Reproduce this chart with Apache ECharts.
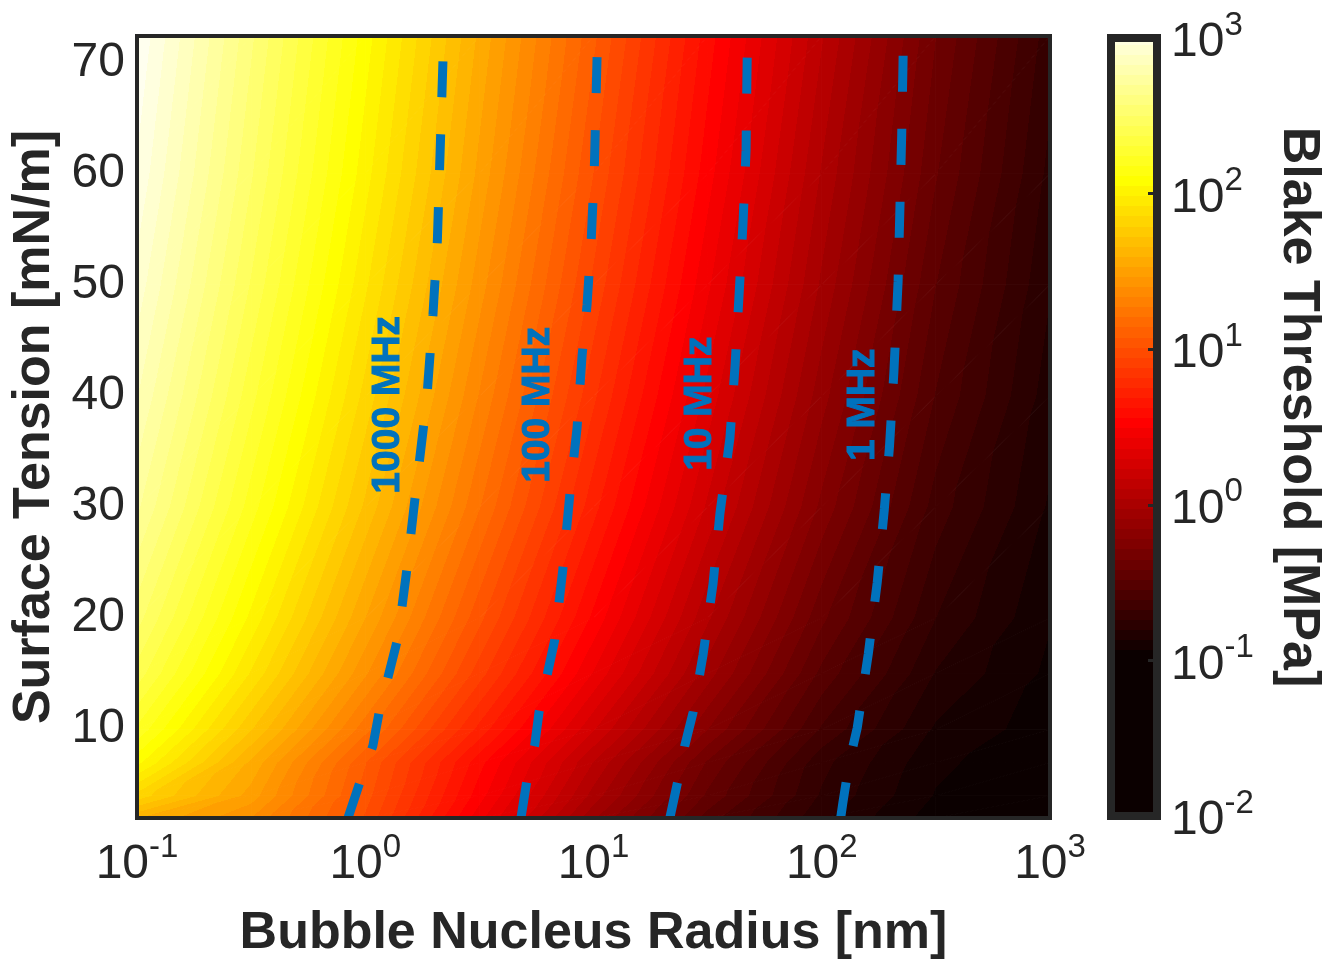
<!DOCTYPE html>
<html>
<head>
<meta charset="utf-8">
<script src="https://cdn.jsdelivr.net/npm/echarts@6/dist/echarts.min.js"></script>
<style>
  html, body { margin: 0; padding: 0; background: #ffffff; }
  #chart { width: 1339px; height: 965px; }
</style>
</head>
<body>
<div id="chart"></div>
<script>
// ---- Blake threshold map: grid nodes ----
const radiusNm = [0.1, 0.316, 1, 3.16, 10, 31.6, 100, 316, 1000];
const tensionMNm = [2, 4, 7, 10, 15, 20, 30, 40, 50, 60, 72.4];
// log10 of the Blake threshold [MPa]; one row per surface tension, one column per radius
const blakeLog10 = [
  [1.60, 1.40, 1.00, 0.45, -0.08, -0.51, -0.79, -0.97, -0.99],  // 2 mN/m
  [1.83, 1.50, 1.04, 0.52,  0.01, -0.43, -0.75, -0.94, -0.99],  // 4
  [2.07, 1.58, 1.08, 0.58,  0.10, -0.36, -0.72, -0.92, -0.99],  // 7
  [2.23, 1.73, 1.23, 0.73,  0.24, -0.22, -0.62, -0.88, -0.97],  // 10
  [2.41, 1.91, 1.41, 0.91,  0.42, -0.06, -0.50, -0.81, -0.95],  // 15
  [2.53, 2.03, 1.53, 1.03,  0.54,  0.05, -0.40, -0.74, -0.93],  // 20
  [2.71, 2.21, 1.71, 1.21,  0.71,  0.22, -0.24, -0.64, -0.88],  // 30
  [2.83, 2.33, 1.83, 1.33,  0.83,  0.34, -0.13, -0.55, -0.84],  // 40
  [2.93, 2.43, 1.93, 1.43,  0.93,  0.44, -0.04, -0.48, -0.80],  // 50
  [3.01, 2.51, 2.01, 1.51,  1.01,  0.52,  0.03, -0.41, -0.76],  // 60
  [3.08, 2.58, 2.08, 1.58,  1.09,  0.59,  0.11, -0.35, -0.71]   // 72.4
];

// colour scale (log10 MPa) and number of colours in the "hot" map
const colorLimits = [-1.0, 3.15];
const colormapSize = 64;

// axis ticks
const radiusTicks = [0.1, 1, 10, 100, 1000];
const tensionTicks = [10, 20, 30, 40, 50, 60, 70];
const colorbarTicks = [0.01, 0.1, 1, 10, 100, 1000];

// ---- dashed frequency contours: [radius nm, surface tension mN/m] ----
const line1000MHz = [[0.84, 2], [0.95, 5.3], [1.08, 8.5], [1.15, 11.5], [1.39, 18.2], [1.52, 24.3],
  [1.65, 30.7], [1.86, 39.7], [1.98, 47.3], [2.07, 54.0], [2.19, 70.2], [2.20, 72.4]];
const line100MHz = [[4.81, 2], [5.10, 5.3], [5.52, 8.5], [5.77, 11.5], [6.76, 18.0], [7.35, 24.5],
  [7.89, 31.3], [8.47, 37.1], [8.91, 43.6], [9.37, 48.2], [9.77, 54.0], [10.07, 60.0], [10.42, 72.4]];
const line10MHz = [[21.6, 2], [23.4, 5.3], [25.1, 8.5], [27.3, 11.5], [30.2, 16.7], [33.4, 23.1],
  [35.8, 29.4], [39.6, 36.2], [41.7, 42.7], [43.4, 49.0], [45.2, 55.6], [46.6, 62.1], [47.0, 68.6], [47.3, 72.4]];
const line1MHz = [[121, 2], [124, 3.5], [132, 7.0], [143, 10.1], [160, 16.8], [175, 23.2], [188, 29.8],
  [198, 35.4], [207, 42.1], [216, 50.3], [220, 56.9], [224, 63.5], [227, 70.0], [228, 72.4]];

// contour labels
const labelText = ['1000 MHz', '100 MHz', '10 MHz', '1 MHz'];
const labelRadius = [1.26, 5.71, 29.3, 152];
const labelTension = [39.2, 39.2, 39.3, 39.2];

// ---- styling ----
const FONT = '"Liberation Sans", Arial, Helvetica, sans-serif';
const INK = '#262626';
const LINE_BLUE = '#0072BD';

// MATLAB style "hot" colormap, entry k = 0 .. colormapSize-1
function hotColor(k) {
  const m = colormapSize;
  const n = Math.floor(3 / 8 * m);
  const i = k + 1;
  const r = Math.min(1, i / n);
  const g = Math.min(1, Math.max(0, (i - n) / n));
  const b = Math.min(1, Math.max(0, (i - 2 * n) / (m - 2 * n)));
  return 'rgb(' + Math.round(r * 255) + ',' + Math.round(g * 255) + ',' + Math.round(b * 255) + ')';
}
function bandIndex(v) {
  const lo = colorLimits[0], hi = colorLimits[1];
  const k = Math.floor((v - lo) / (hi - lo) * colormapSize);
  return Math.max(0, Math.min(colormapSize - 1, k));
}
// stepped colour stops for a gradient running from value a (offset 0) to value b (offset 1), a < b
function steppedStops(a, b) {
  const lo = colorLimits[0], hi = colorLimits[1];
  const step = (hi - lo) / colormapSize;
  const stops = [{ offset: 0, color: hotColor(bandIndex(a)) }];
  const kFirst = Math.max(1, Math.ceil((a - lo) / step));
  const kLast = Math.min(colormapSize - 1, Math.floor((b - lo) / step));
  for (let k = kFirst; k <= kLast; k++) {
    const vb = lo + k * step;
    if (vb <= a || vb >= b) continue;
    const t = (vb - a) / (b - a);
    stops.push({ offset: t, color: hotColor(k - 1) });
    stops.push({ offset: t, color: hotColor(k) });
  }
  stops.push({ offset: 1, color: hotColor(bandIndex(b)) });
  return stops;
}

// the map is drawn as triangles over the node grid, each filled along its own value gradient
const triangles = [];
for (let r = 0; r < tensionMNm.length - 1; r++) {
  for (let c = 0; c < radiusNm.length - 1; c++) {
    triangles.push([[c, r], [c + 1, r], [c + 1, r + 1]]);
    triangles.push([[c, r], [c + 1, r + 1], [c, r + 1]]);
  }
}
const triangleData = triangles.map((t, i) => [radiusNm[t[0][0]], tensionMNm[t[0][1]], i]);

function renderTriangle(params, api) {
  const tri = triangles[api.value(2)];
  const pts = tri.map(([c, r]) => api.coord([radiusNm[c], tensionMNm[r]]));
  const vals = tri.map(([c, r]) => blakeLog10[r][c]);
  const p0 = pts[0];
  const dx1 = pts[1][0] - p0[0], dy1 = pts[1][1] - p0[1];
  const dx2 = pts[2][0] - p0[0], dy2 = pts[2][1] - p0[1];
  const dv1 = vals[1] - vals[0], dv2 = vals[2] - vals[0];
  const det = dx1 * dy2 - dy1 * dx2;
  const gx = (dv1 * dy2 - dy1 * dv2) / det;
  const gy = (dx1 * dv2 - dv1 * dx2) / det;
  const g2 = gx * gx + gy * gy;
  const vmin = Math.min(...vals), vmax = Math.max(...vals);
  let fill;
  if (!(g2 > 1e-14) || vmax - vmin < 1e-6) {
    fill = hotColor(bandIndex(vmin));
  } else {
    const ax = p0[0] + (vmin - vals[0]) * gx / g2, ay = p0[1] + (vmin - vals[0]) * gy / g2;
    const bx = p0[0] + (vmax - vals[0]) * gx / g2, by = p0[1] + (vmax - vals[0]) * gy / g2;
    fill = new echarts.graphic.LinearGradient(ax, ay, bx, by, steppedStops(vmin, vmax), true);
  }
  return {
    type: 'polygon',
    shape: { points: pts },
    style: { fill: fill, stroke: fill, lineWidth: 1 }
  };
}

function renderColorbar(params, api) {
  const lowV = colorbarTicks[0], highV = colorbarTicks[colorbarTicks.length - 1];
  const pLow = api.coord([0, lowV]);
  const pHigh = api.coord([1, highV]);
  const fill = new echarts.graphic.LinearGradient(0, pLow[1], 0, pHigh[1],
    steppedStops(Math.log10(lowV), Math.log10(highV)), true);
  return {
    type: 'rect',
    shape: { x: pLow[0], y: pHigh[1], width: pHigh[0] - pLow[0], height: pLow[1] - pHigh[1] },
    style: { fill: fill }
  };
}

// "10" with a raised exponent
function powerLabel(v) {
  const e = Math.round(Math.log10(v));
  return '{b|10}{s|' + e + '}';
}
const powerRich = {
  b: { fontSize: 48, lineHeight: 48, padding: [10, 0, 0, 0], fontFamily: FONT, color: INK },
  s: { fontSize: 33, lineHeight: 33, padding: [0, 0, 25, 0], fontFamily: FONT, color: INK }
};

const frameLine = { show: true, onZero: false, lineStyle: { color: INK, width: 4, cap: 'square' } };
const barLine = { show: true, onZero: false, lineStyle: { color: INK, width: 8, cap: 'square' } };
const titleStyle = { fontSize: 52, fontWeight: 'bold', color: INK, fontFamily: FONT };

const chart = echarts.init(document.getElementById('chart'), null, { renderer: 'canvas' });
chart.setOption({
  animation: false,
  backgroundColor: '#ffffff',
  grid: [
    { left: 137, top: 36, width: 913, height: 784 },
    { left: 1111, top: 38, width: 46, height: 778 }
  ],
  xAxis: [
    {
      gridIndex: 0, type: 'log', logBase: 10, min: radiusTicks[0], max: radiusTicks[radiusTicks.length - 1],
      position: 'bottom', z: 10,
      name: 'Bubble Nucleus Radius [nm]', nameLocation: 'middle', nameGap: 90, nameTextStyle: titleStyle,
      axisLine: frameLine, axisTick: { show: false }, minorTick: { show: false },
      splitLine: { show: false },
      axisLabel: { margin: 18, formatter: powerLabel, rich: powerRich }
    },
    {
      gridIndex: 0, type: 'log', logBase: 10, min: radiusTicks[0], max: radiusTicks[radiusTicks.length - 1],
      position: 'top', z: 10,
      axisLine: frameLine, axisTick: { show: false }, axisLabel: { show: false }, splitLine: { show: false }
    },
    {
      gridIndex: 1, type: 'value', min: 0, max: 1, position: 'bottom', z: 10,
      axisLine: barLine, axisTick: { show: false }, axisLabel: { show: false }, splitLine: { show: false }
    },
    {
      gridIndex: 1, type: 'value', min: 0, max: 1, position: 'top', z: 10,
      axisLine: barLine, axisTick: { show: false }, axisLabel: { show: false }, splitLine: { show: false }
    }
  ],
  yAxis: [
    {
      gridIndex: 0, type: 'value', min: tensionMNm[0], max: tensionMNm[tensionMNm.length - 1],
      position: 'left', z: 10,
      name: 'Surface Tension [mN/m]', nameLocation: 'middle', nameRotate: 90, nameGap: 72, nameTextStyle: titleStyle,
      axisLine: frameLine, axisTick: { show: false }, splitLine: { show: false },
      axisLabel: { customValues: tensionTicks, margin: 12, fontSize: 48, color: INK, fontFamily: FONT }
    },
    {
      gridIndex: 0, type: 'value', min: tensionMNm[0], max: tensionMNm[tensionMNm.length - 1],
      position: 'right', z: 10,
      axisLine: frameLine, axisTick: { show: false }, axisLabel: { show: false }, splitLine: { show: false }
    },
    {
      gridIndex: 1, type: 'log', logBase: 10, min: colorbarTicks[0], max: colorbarTicks[colorbarTicks.length - 1],
      position: 'right', z: 10,
      name: 'Blake Threshold [MPa]', nameLocation: 'middle', nameRotate: -90, nameGap: 115,
      nameTextStyle: Object.assign({ padding: [0, 40, 0, 0] }, titleStyle),
      axisLine: barLine,
      axisTick: { show: true, inside: true, length: 9, lineStyle: { color: INK, width: 3 } },
      minorTick: { show: false }, splitLine: { show: false },
      axisLabel: { margin: 14, formatter: powerLabel, rich: powerRich }
    },
    {
      gridIndex: 1, type: 'log', logBase: 10, min: colorbarTicks[0], max: colorbarTicks[colorbarTicks.length - 1],
      position: 'left', z: 10,
      axisLine: barLine, axisTick: { show: false }, axisLabel: { show: false }, splitLine: { show: false }
    }
  ],
  series: [
    {
      name: 'Blake threshold', type: 'custom', coordinateSystem: 'cartesian2d',
      xAxisIndex: 0, yAxisIndex: 0, z: 1, silent: true,
      renderItem: renderTriangle, data: triangleData, encode: { x: 0, y: 1 }
    },
    {
      name: 'colorbar', type: 'custom', coordinateSystem: 'cartesian2d',
      xAxisIndex: 2, yAxisIndex: 2, z: 1, silent: true,
      renderItem: renderColorbar, data: [[0.5, 1]], encode: { x: 0, y: 1 }
    }
  ].concat([line1000MHz, line100MHz, line10MHz, line1MHz].map((pts, i) => ({
    name: labelText[i], type: 'line', xAxisIndex: 0, yAxisIndex: 0, z: 3, silent: true,
    data: pts, symbol: 'none', showSymbol: false, smooth: false, clip: true,
    lineStyle: { color: LINE_BLUE, width: 9, type: [36, 37], cap: 'butt' }
  }))).concat([{
    name: 'contour labels', type: 'scatter', xAxisIndex: 0, yAxisIndex: 0, z: 4, silent: true,
    symbolSize: 0, itemStyle: { color: LINE_BLUE, opacity: 1 },
    data: labelText.map((t, i) => ({ name: t, value: [labelRadius[i], labelTension[i]] })),
    label: {
      show: true, position: 'inside', rotate: 90, formatter: '{b}', opacity: 1,
      fontSize: 39, fontWeight: 'bold', color: LINE_BLUE, fontFamily: FONT,
      textBorderWidth: 1, textBorderColor: LINE_BLUE, textShadowBlur: 0
    }
  }])
});
</script>
</body>
</html>
